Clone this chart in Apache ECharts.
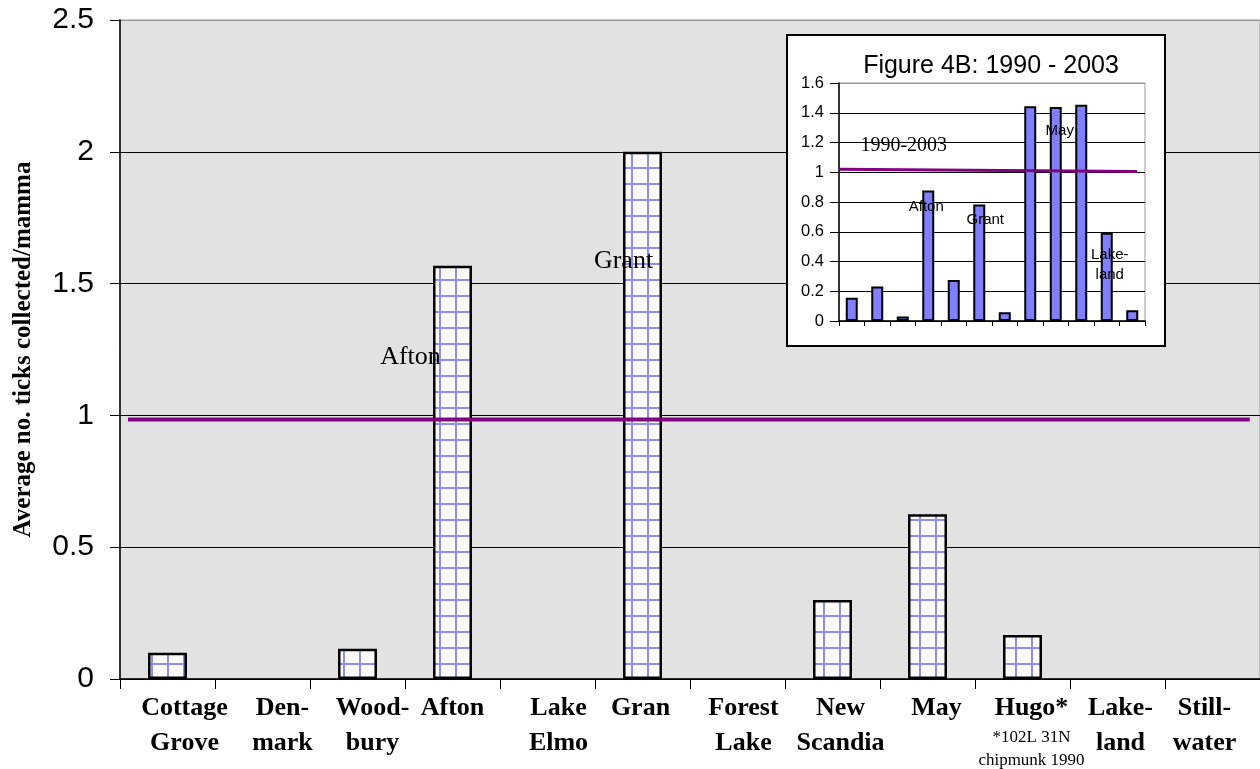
<!DOCTYPE html>
<html>
<head>
<meta charset="utf-8">
<script src="https://cdn.jsdelivr.net/npm/echarts@6/dist/echarts.min.js"></script>
<style>html,body{margin:0;padding:0;background:#fff}#c{width:1260px;height:769px}</style>
</head>
<body>
<div id="c"></div>
<script>
// ---- data ----
const categories = ['Cottage\nGrove','Den-\nmark','Wood-\nbury','Afton','Lake\nElmo','Gran','Forest\nLake','New\nScandia','May','Hugo*','Lake-\nland','Still-\nwater'];
const values = [0.10, 0, 0.115, 1.568, 0, 2.0, 0, 0.30, 0.625, 0.167, 0, 0];
const meanValue = 0.984;
const hugoNote = ['*102L 31N', 'chipmunk 1990'];
const yTicks = [0, 0.5, 1, 1.5, 2, 2.5];

const insetCategories = ['1','2','3','4','5','6','7','8','9','10','11','12'];
const insetValues = [0.156, 0.232, 0.031, 0.878, 0.275, 0.784, 0.058, 1.444, 1.439, 1.453, 0.594, 0.072];
const insetMean = [1.02, 1.005];
const insetTicks = [0, 0.2, 0.4, 0.6, 0.8, 1.0, 1.2, 1.4, 1.6];
const insetTitle = 'Figure 4B: 1990 - 2003';

// label nudges (style only)
const labelNudge = [17, 20, 15, 0, 11, -2, 6, 8, 9, 9, 3, -8];

function makePattern() {
  const c = document.createElement('canvas');
  c.width = 16; c.height = 16;
  const g = c.getContext('2d');
  g.fillStyle = '#ffffff'; g.fillRect(0, 0, 16, 16);
  g.strokeStyle = '#8c8cff'; g.lineWidth = 2;
  g.beginPath();
  g.moveTo(0, 8); g.lineTo(16, 8);
  g.moveTo(8, 0); g.lineTo(8, 16);
  g.stroke();
  return c;
}

const rich = {};
labelNudge.forEach((d, i) => {
  const pad = d >= 0 ? [0, 0, 0, 2 * d] : [0, -2 * d, 0, 0];
  rich['b' + i] = { fontFamily: 'Liberation Serif', fontWeight: 'bold', fontSize: 26, lineHeight: 35, color: '#000', padding: pad };
  rich['s' + i] = { fontFamily: 'Liberation Serif', fontSize: 17, lineHeight: 23, color: '#000', padding: pad };
});

const chart = echarts.init(document.getElementById('c'));
const serif = 'Liberation Serif', sans = 'Liberation Sans';

const option = {
  animation: false,
  backgroundColor: '#ffffff',
  grid: [
    { left: 120, right: 0, top: 20, bottom: 90, show: true, backgroundColor: '#e2e2e2', borderColor: '#999', borderWidth: 1, z: 0 },
    { left: 839, top: 83, width: 306, height: 238, show: true, backgroundColor: '#ffffff', borderColor: '#999', borderWidth: 1, z: 4 }
  ],
  xAxis: [
    {
      type: 'category', gridIndex: 0, data: categories,
      axisLine: { lineStyle: { color: '#000', width: 1.5 } },
      axisTick: { show: true, length: 10, alignWithLabel: false, lineStyle: { color: '#000' } },
      axisLabel: {
        interval: 0, margin: 12,
        formatter: function (v, i) {
          const lines = v.split('\n').map(s => '{b' + i + '|' + s + '}');
          if (v === 'Hugo*') hugoNote.forEach(n => lines.push('{s' + i + '|' + n + '}'));
          return lines.join('\n');
        },
        rich: rich
      }
    },
    {
      type: 'category', gridIndex: 1, data: insetCategories, z: 5,
      axisLine: { lineStyle: { color: '#000', width: 1.5 } },
      axisTick: { show: true, length: 5, alignWithLabel: false, lineStyle: { color: '#000' } },
      axisLabel: { show: false }
    },
    { type: 'value', gridIndex: 0, min: 0, max: 1, show: false },
    { type: 'value', gridIndex: 1, min: 0, max: 1, show: false }
  ],
  yAxis: [
    {
      type: 'value', gridIndex: 0, min: yTicks[0], max: yTicks[yTicks.length - 1], interval: 0.5,
      name: 'Average no. ticks collected/mamma', nameLocation: 'middle', nameGap: 84, nameRotate: 90,
      nameTextStyle: { fontFamily: serif, fontWeight: 'bold', fontSize: 25, color: '#000' },
      axisLine: { show: true, lineStyle: { color: '#000', width: 1.5 } },
      axisTick: { show: true, length: 10, lineStyle: { color: '#000' } },
      axisLabel: { fontFamily: sans, fontSize: 30, color: '#000', margin: 26 },
      splitLine: { show: true, lineStyle: { color: ['#000', '#000', '#000', '#000', '#000', '#999'], width: 1 } }
    },
    {
      type: 'value', gridIndex: 1, min: insetTicks[0], max: insetTicks[insetTicks.length - 1], interval: 0.2, z: 5,
      axisLine: { show: true, lineStyle: { color: '#000', width: 1.5 } },
      axisTick: { show: true, length: 9, lineStyle: { color: '#000' } },
      axisLabel: { fontFamily: sans, fontSize: 16.5, color: '#000', margin: 15, formatter: v => String(Math.round(v * 10) / 10) },
      splitLine: { show: true, lineStyle: { color: ['#000', '#000', '#000', '#000', '#000', '#000', '#000', '#000', '#999'], width: 1 } }
    }
  ],
  graphic: [
    { type: 'rect', z: 3, shape: { x: 787, y: 35, width: 378, height: 311 }, style: { fill: '#fff', stroke: '#000', lineWidth: 2 } },
    { type: 'text', z: 6, x: 991, y: 66, style: { text: insetTitle, fontFamily: sans, fontSize: 25, fill: '#000', textAlign: 'center', textVerticalAlign: 'middle' } }
  ],
  series: [
    {
      type: 'bar', xAxisIndex: 0, yAxisIndex: 0, data: values.map(v => (v === 0 ? '-' : v)), barWidth: '41%', z: 2,
      itemStyle: { color: { image: makePattern(), repeat: 'repeat' }, borderColor: '#000', borderWidth: 2.5 },
      markPoint: {
        z: 10,
        symbol: 'circle', symbolSize: 1, itemStyle: { color: 'rgba(0,0,0,0)' },
        label: { show: true, position: 'inside', fontFamily: serif, fontSize: 26, color: '#000' },
        data: [
          { coord: ['Afton', 1.22], value: 'Afton', label: { formatter: 'Afton', offset: [-42, 0] } },
          { coord: ['Gran', 1.585], value: 'Grant', label: { formatter: 'Grant', offset: [-19, 0] } }
        ]
      }
    },
    {
      type: 'line', xAxisIndex: 2, yAxisIndex: 0, z: 3, symbol: 'none',
      data: [[0.007, meanValue], [0.991, meanValue]],
      lineStyle: { color: '#800080', width: 4 }
    },
    {
      type: 'bar', xAxisIndex: 1, yAxisIndex: 1, data: insetValues, barWidth: '47%', z: 6,
      itemStyle: { color: '#8080ff', borderColor: '#000', borderWidth: 2 },
      markPoint: {
        z: 12,
        symbol: 'circle', symbolSize: 1, itemStyle: { color: 'rgba(0,0,0,0)' },
        label: { show: true, position: 'inside', fontFamily: sans, fontSize: 15, color: '#000', lineHeight: 20 },
        data: [
          { coord: ['3', 1.18], value: 0, label: { formatter: '1990-2003', fontFamily: serif, fontSize: 20, offset: [1, 0] } },
          { coord: ['4', 0.764], value: 0, label: { formatter: 'Afton', offset: [-2, 0] } },
          { coord: ['6', 0.677], value: 0, label: { formatter: 'Grant', offset: [6, 0] } },
          { coord: ['9', 1.28], value: 0, label: { formatter: 'May', offset: [4, 0] } },
          { coord: ['11', 0.375], value: 0, label: { formatter: 'Lake-\nland', offset: [3, 0] } }
        ]
      }
    },
    {
      type: 'line', xAxisIndex: 3, yAxisIndex: 1, z: 7, symbol: 'none',
      data: [[0.003, insetMean[0]], [0.974, insetMean[1]]],
      lineStyle: { color: '#800080', width: 3 }
    }
  ]
};
chart.setOption(option);
</script>
</body>
</html>
